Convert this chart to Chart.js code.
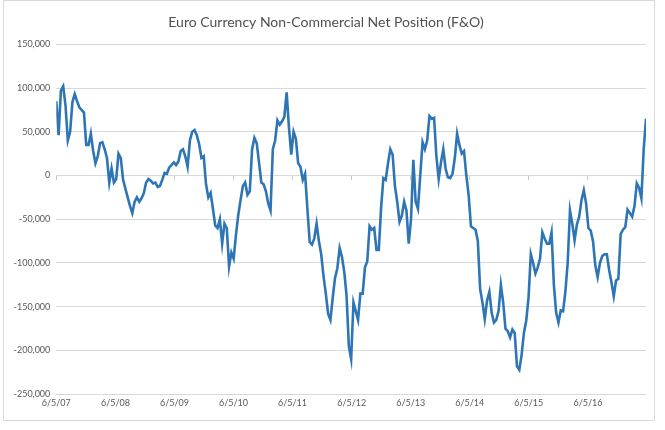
<!DOCTYPE html>
<html lang="en">
<head>
    <meta charset="UTF-8">
    <title>Euro Currency Non-Commercial Net Position (F&amp;O)</title>
    <script src="https://cdn.jsdelivr.net/npm/chart.js@4.4.1/dist/chart.umd.min.js"></script>
    <style>
        body { margin: 0; background: #fff; }
        #wrap { position: relative; width: 665px; height: 430px; }
        #frame { position: absolute; left: 3px; top: 0; width: 652px; height: 421px;
                 border: 1px solid #d9d9d9; box-sizing: border-box; pointer-events: none; }
    </style>
</head>
<body>

<div id="wrap">
    <canvas id="cot-chart" width="665" height="430"></canvas>
    <div id="frame"></div>
</div>

<script>

    // roughly fortnightly readings, first and last report dates
    const firstReport = '2007-06-05';
    const lastReport = '2017-05-30';

    const netPosition = [
        85000, 46000, 97000, 102000, 80000, 40000, 50000, 84000, 93000, 85000,
        78000, 75000, 72000, 35000, 35000, 48000, 28000, 14000, 22000, 37000,
        38000, 30000, 20000, -8000, 8000, -8000, -4000, 25000, 20000, -5000,
        -15000, -25000, -35000, -43000, -30000, -25000, -30000, -26000, -20000, -8000,
        -4000, -6000, -9000, -8000, -13000, -12000, -5000, 3000, 2000, 9000,
        12000, 15000, 12000, 16000, 28000, 30000, 22000, 10000, 40000, 50000,
        52000, 46000, 36000, 20000, 22000, -10000, -25000, -20000, -38000, -57000,
        -60000, -50000, -78000, -55000, -60000, -104000, -88000, -95000, -68000, -45000,
        -28000, -12000, -8000, -22000, -18000, 30000, 43000, 37000, 15000, -8000,
        -10000, -18000, -32000, -40000, 30000, 40000, 63000, 58000, 62000, 67000,
        95000, 55000, 24000, 50000, 42000, 14000, 10000, -5000, 2000, -38000,
        -76000, -79000, -72000, -55000, -75000, -90000, -115000, -135000, -158000, -165000,
        -140000, -117000, -106000, -83000, -93000, -110000, -137000, -195000, -210000, -145000,
        -155000, -165000, -135000, -135000, -105000, -98000, -58000, -62000, -60000, -85000,
        -85000, -37000, -3000, -5000, 14000, 30000, 24000, -12000, -30000, -53000,
        -46000, -30000, -40000, -78000, -50000, 18000, -30000, -38000, 0, 38000,
        30000, 40000, 68000, 65000, 66000, 22000, -4000, 15000, 30000, 8000,
        -2000, -3000, 2000, 20000, 48000, 35000, 25000, 28000, 0, -22000,
        -58000, -60000, -62000, -75000, -130000, -145000, -164000, -143000, -133000, -157000,
        -168000, -165000, -155000, -125000, -145000, -175000, -178000, -185000, -176000, -180000,
        -218000, -222000, -205000, -180000, -166000, -140000, -90000, -100000, -112000, -105000,
        -95000, -65000, -72000, -78000, -78000, -65000, -125000, -157000, -168000, -154000,
        -155000, -133000, -100000, -40000, -55000, -74000, -56000, -47000, -28000, -17000,
        -32000, -60000, -63000, -75000, -103000, -116000, -100000, -92000, -90000, -90000,
        -108000, -122000, -138000, -120000, -118000, -67000, -62000, -59000, -39000, -43000,
        -47000, -35000, -9000, -14000, -26000, 30000, 65000
    ];

    const dateLabels = ['6/5/07', '6/5/08', '6/5/09', '6/5/10', '6/5/11',
                        '6/5/12', '6/5/13', '6/5/14', '6/5/15', '6/5/16'];

    const yMin = -250000;
    const yMax = 150000;
    const yStep = 50000;

    const DAY = 86400000;

    function daysFromStart(d) {
        return Math.round((d - new Date(firstReport + 'T00:00:00')) / DAY);
    }

    function parseLabel(s) {
        const [m, d, y] = s.split('/').map(Number);
        return new Date(2000 + y, m - 1, d);
    }

    const span = daysFromStart(new Date(lastReport + 'T00:00:00'));
    const points = netPosition.map((v, i) => ({
        x: span * i / (netPosition.length - 1),
        y: v
    }));
    const tickDays = dateLabels.map(s => daysFromStart(parseLabel(s)));

    const setDateTicks = scale => {
        scale.ticks = tickDays.map(v => ({value: v}));
    };

    const grey = '#d9d9d9';
    const textGrey = '#595959';
    const font = 'Lato';

    new Chart('cot-chart', {
        type: 'line',
        data: {
            datasets: [{
                data: points,
                borderColor: '#2e75b6',
                borderWidth: 2.6,
                pointRadius: 0,
                tension: 0,
                fill: false
            }]
        },
        options: {
            responsive: false,
            animation: false,
            layout: {
                padding: {left: 6, right: 19, top: 0, bottom: 19}
            },
            plugins: {
                legend: {display: false},
                tooltip: {enabled: false},
                title: {
                    display: true,
                    text: 'Euro Currency Non-Commercial Net Position (F&O)',
                    color: '#505050',
                    font: {family: font, size: 14, weight: 'normal'},
                    padding: {top: 14, bottom: 13.5}
                }
            },
            scales: {
                x: {
                    type: 'linear',
                    min: 0,
                    max: span,
                    afterBuildTicks: setDateTicks,
                    grid: {display: false, drawTicks: false},
                    border: {display: false},
                    ticks: {
                        autoSkip: false,
                        maxRotation: 0,
                        padding: 3,
                        color: textGrey,
                        font: {family: font, size: 9},
                        callback: (value, index) => dateLabels[index]
                    }
                },
                x0: {
                    type: 'linear',
                    axis: 'x',
                    position: {y: 0},
                    min: 0,
                    max: span,
                    afterBuildTicks: setDateTicks,
                    ticks: {display: false},
                    grid: {drawOnChartArea: false, drawTicks: true, tickLength: 4, color: '#c8c8c8'},
                    border: {display: true, color: grey}
                },
                y: {
                    min: yMin,
                    max: yMax,
                    afterFit: scale => { scale.width = 50.3; },
                    grid: {color: grey, drawTicks: false},
                    border: {display: false},
                    ticks: {
                        stepSize: yStep,
                        padding: 6,
                        color: textGrey,
                        font: {family: font, size: 9},
                        callback: v => v.toLocaleString('en-US')
                    }
                }
            }
        }
    });

</script>

</body>
</html>
